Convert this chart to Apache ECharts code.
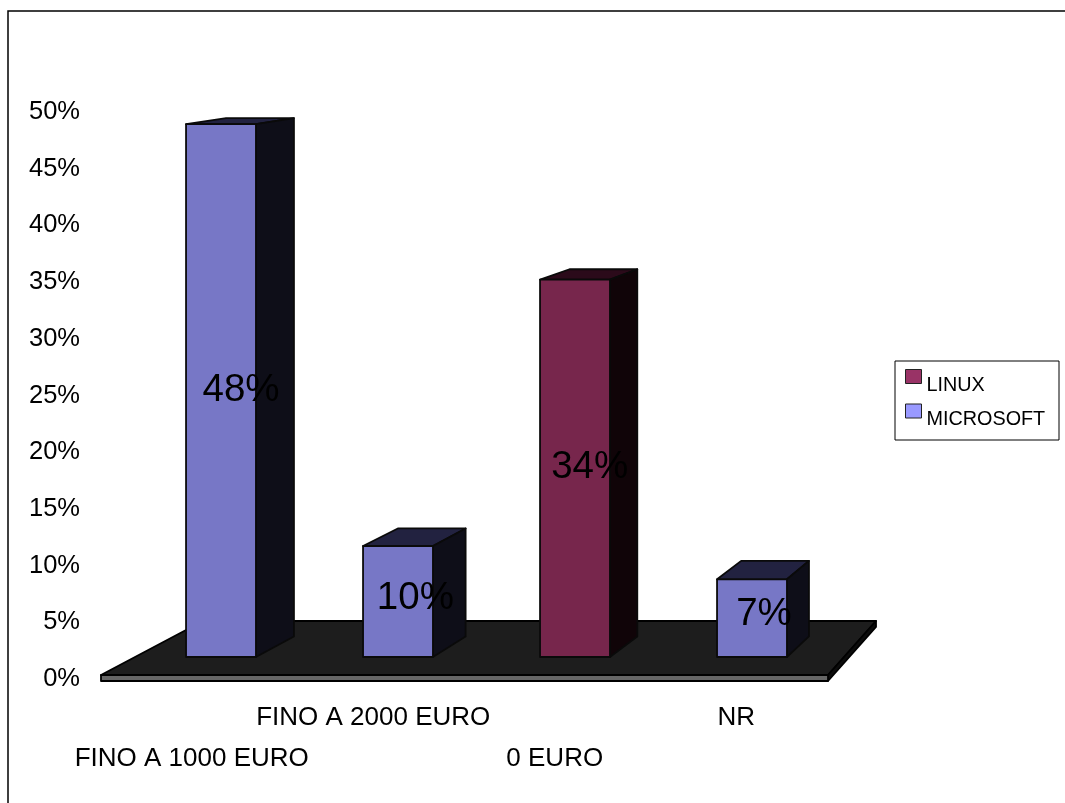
<!DOCTYPE html>
<html>
<head>
<meta charset="utf-8">
<style>html,body{margin:0;padding:0;background:#fff;overflow:hidden}#c{width:1065px;height:803px}</style>
<script src="https://cdn.jsdelivr.net/npm/echarts@6/dist/echarts.min.js"></script>
</head>
<body>
<div id="c"></div>
<script>
const categories = ['FINO A 1000 EURO', 'FINO A 2000 EURO', '0 EURO', 'NR'];
const linuxValues = [null, null, 34, null];
const microsoftValues = [48, 10, null, 7];
const percentTicks = [0, 5, 10, 15, 20, 25, 30, 35, 40, 45, 50];

const FONT = '"Liberation Sans", Arial, sans-serif';
// perspective of the 3D extrusion
const VP = { x: 1518, y: -104, tx: 0.0301, ty: 0.027 };
const back = p => [p[0] + (VP.x - p[0]) * VP.tx, p[1] + (VP.y - p[1]) * VP.ty];

function barRenderer(front, top, side) {
  return function (params, api) {
    const v = api.value(1);
    if (v == null || isNaN(v)) return null;
    const base = api.coord([api.value(0), 0]);
    const head = api.coord([api.value(0), v]);
    const w = api.size([1, 0])[0] * 0.395;
    const l = base[0] - w / 2, r = base[0] + w / 2, t = head[1], b = base[1];
    const tl = back([l, t]), tr = back([r, t]), br = back([r, b]);
    const stroke = { stroke: '#0a0a0a', lineWidth: 1.8, lineJoin: 'round' };
    const poly = (pts, fill) => ({ type: 'polygon', shape: { points: pts }, style: Object.assign({ fill }, stroke) });
    return {
      type: 'group',
      children: [
        poly([[l, t], tl, tr, [r, t]], top),
        poly([[r, t], tr, br, [r, b]], side),
        poly([[l, t], [r, t], [r, b], [l, b]], front),
        {
          type: 'text',
          z2: 10,
          style: {
            x: base[0] + (tr[0] - r) / 2 + 1,
            y: (t + b) / 2 + 1.7 - (t - tr[1]) / 3.5,
            text: v + '%',
            fill: '#000',
            font: '38.5px ' + FONT,
            align: 'center',
            verticalAlign: 'middle'
          }
        }
      ]
    };
  };
}

function floorRenderer(params) {
  const c = params.coordSys;
  const L = c.x, R = c.x + c.width, Y = c.y + c.height - 2;
  const topY = Y - 2, botY = Y + 4, backY = Y - 56;
  const line = { stroke: '#000', lineWidth: 1.8, lineJoin: 'round' };
  return {
    type: 'group',
    children: [
      { type: 'polygon', shape: { points: [[L, topY], [L + 102, backY], [R + 49, backY], [R + 1, topY]] }, style: Object.assign({ fill: '#1d1d1d' }, line) },
      { type: 'polygon', shape: { points: [[R + 1, topY], [R + 49, backY], [R + 49, backY + 6], [R + 1, botY]] }, style: Object.assign({ fill: '#0c0c0c' }, line) },
      { type: 'polygon', shape: { points: [[L, topY], [R + 1, topY], [R + 1, botY], [L, botY]] }, style: Object.assign({ fill: '#666666' }, line) }
    ]
  };
}

const chart = echarts.init(document.getElementById('c'), null, { renderer: 'canvas' });
chart.setOption({
  animation: false,
  backgroundColor: '#fff',
  graphic: [{
    type: 'rect', z: -10, silent: true,
    shape: { x: 8, y: 11, width: 1200, height: 1000 },
    style: { fill: 'none', stroke: '#000', lineWidth: 1.5 }
  }, {
    type: 'rect', z: -5, silent: true,
    shape: { x: 895, y: 361, width: 164, height: 79 },
    style: { fill: '#fff', stroke: '#000', lineWidth: 1 }
  }],
  legend: {
    orient: 'vertical', left: 905, top: 369,
    padding: 0, itemGap: 8, itemWidth: 16, itemHeight: 14,
    textStyle: {
      fontFamily: FONT, fontSize: 19.8, color: '#000',
      rich: { a: { fontFamily: FONT, fontSize: 19.8, color: '#000', padding: [18, 0, 0, 0] } }
    },
    formatter: name => '{a|' + name + '}',
    itemStyle: { borderColor: '#222', borderWidth: 1 },
    data: [
      { name: 'LINUX', icon: 'rect' },
      { name: 'MICROSOFT', icon: 'rect' }
    ]
  },
  grid: [
    { left: 101, width: 726, top: 112, height: 567 },
    { left: 132.5, width: 708, top: 102, height: 555 }
  ],
  xAxis: [
    {
      gridIndex: 0, type: 'category', data: categories,
      axisLine: { show: false }, axisTick: { show: false },
      axisLabel: {
        interval: 0, margin: 18, color: '#000', fontFamily: FONT, fontSize: 26, lineHeight: 41,
        formatter: (name) => (categories.indexOf(name) % 2 === 0 ? '\n' : '') + name
      }
    },
    { gridIndex: 1, type: 'category', data: categories, show: false }
  ],
  yAxis: [
    {
      gridIndex: 0, type: 'value', min: percentTicks[0], max: percentTicks[percentTicks.length - 1], interval: 5,
      axisLine: { show: false }, axisTick: { show: false }, splitLine: { show: false },
      axisLabel: { margin: 21, color: '#000', fontFamily: FONT, fontSize: 25.5, formatter: '{value}%' }
    },
    { gridIndex: 1, type: 'value', min: 0, max: 50, show: false }
  ],
  series: [
    {
      type: 'custom', xAxisIndex: 0, yAxisIndex: 0, silent: true, z: 1,
      renderItem: floorRenderer, data: [[0, 0]], clip: false
    },
    {
      name: 'LINUX', type: 'custom', xAxisIndex: 1, yAxisIndex: 1, z: 2, clip: false,
      itemStyle: { color: '#993366' },
      renderItem: barRenderer('#77264c', '#2b0a1a', '#100408'),
      data: linuxValues.map((v, i) => [i, v])
    },
    {
      name: 'MICROSOFT', type: 'custom', xAxisIndex: 1, yAxisIndex: 1, z: 2, clip: false,
      itemStyle: { color: '#9999ff' },
      renderItem: barRenderer('#7777c6', '#222240', '#0e0e18'),
      data: microsoftValues.map((v, i) => [i, v])
    }
  ]
});
</script>
</body>
</html>
